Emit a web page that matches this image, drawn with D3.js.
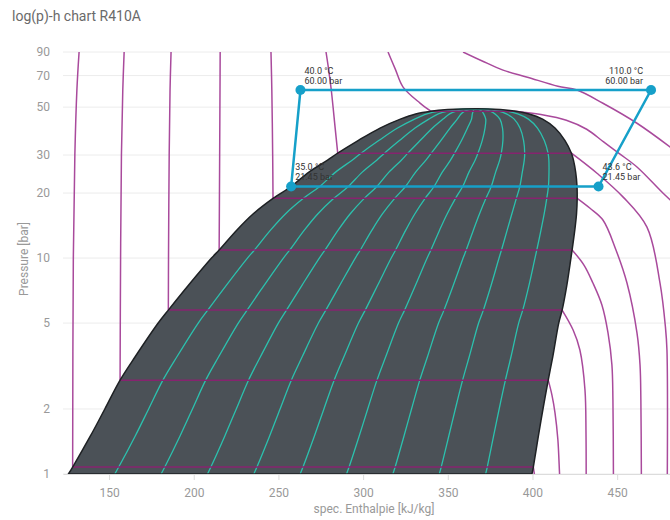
<!DOCTYPE html>
<html><head><meta charset="utf-8">
<script src="https://cdn.jsdelivr.net/npm/d3@7"></script>
<style>
body{margin:0;background:#fff;}
svg{display:block;font-family:Roboto,"Noto Sans",sans-serif;}
</style>
</head><body>
<svg id="chart" width="670" height="520"></svg>
<script>
const title = "log(p)-h chart R410A";
const xTitle = "spec. Enthalpie [kJ/kg]";
const yTitle = "Pressure [bar]";
const xTicks = [150, 200, 250, 300, 350, 400, 450];
const yTicks = [1, 2, 5, 10, 20, 30, 50, 70, 90];

// saturation dome: pressure [bar], sat. liquid / sat. vapour enthalpy [kJ/kg]
const domeP  = [1.0, 1.077, 1.5, 2.0, 2.72, 3.5, 5.0, 5.74, 7.5, 10.0, 10.9, 13.5, 16.0, 18.9, 21.45, 25.0, 28.4, 30.6, 35.0, 40.0, 44.0, 46.5, 47.9, 48.7, 49.2];
const domeHl = [126, 128.5, 139, 147.5, 156.5, 165.5, 179, 185, 197, 210.5, 215, 225.5, 235, 246.8, 257.5, 268, 279, 285, 297, 310, 322, 331, 340, 350, 367.5];
const domeHv = [399.7, 400.5, 403.5, 406.2, 409.3, 412, 415.5, 417.5, 420.3, 422.7, 423.4, 425, 426, 426.4, 426.3, 425.5, 424.2, 423, 419.2, 413.3, 406, 398, 390, 381, 367.5];

// constant vapour quality lines
const qualities = [0.1, 0.2, 0.3, 0.4, 0.5, 0.6, 0.7, 0.8, 0.9];

// isotherms [°C]: liquid part, two-phase (p, hl, hv), vapour part as [h, p]
const isoTemps = [-50, -30, -10, 10, 30, 50, 70, 90];
const isoLiquid = [
  [[132.3, 90], [131, 60], [129.8, 30], [128.9, 10], [128.5, 1.077]],
  [[158.9, 90], [158.1, 60], [157.3, 30], [156.8, 10], [156.5, 2.72]],
  [[186.6, 90], [186, 60], [185.5, 30], [185.1, 10], [185, 5.74]],
  [[215.6, 90], [215.5, 60], [215.3, 30], [215, 10.9]],
  [[245.6, 90], [246.1, 60], [246.6, 30], [246.8, 18.9]],
  [[278.1, 90], [279.6, 75], [281.2, 60], [283.5, 40], [285, 30.6]],
  [[314.7, 90], [319, 75], [323.6, 61.9], [333.6, 52.2], [340, 47.9]],
  [[359, 90], [370, 82], [382.6, 74.2], [397, 68.8], [415, 62.5], [426.3, 60], [441.6, 52.1], [461.7, 42.1], [481.2, 32.7], [500, 25]]
];
const isoSat = [
  [1.077, 128.5, 400.5],
  [2.72, 156.5, 409.3],
  [5.74, 185, 417.5],
  [10.9, 215, 423.4],
  [18.9, 246.8, 426.4],
  [30.6, 285, 423],
  [47.9, 340, 390],
  null
];
const isoVapor = [
  [[400.5, 1.077], [401.5, 0.95]],
  [[409.3, 2.72], [411.5, 2.32], [413.3, 1.92], [415, 1.44], [416, 1.0], [416.2, 0.95]],
  [[417.5, 5.74], [424, 4.64], [428, 3.75], [431, 2.45], [431.6, 1.55], [431.7, 0.95]],
  [[423.4, 10.9], [430.4, 9.28], [435.7, 7.66], [441, 6.06], [444.6, 4.5], [446.9, 3.2], [447.5, 2.2], [447.8, 0.95]],
  [[426.4, 18.9], [434, 17.0], [441.6, 15.0], [449.3, 10.9], [455.8, 7.66], [461.7, 4.5], [463.5, 3.2], [464, 2.2], [464.3, 0.95]],
  [[423, 30.6], [438.1, 24.7], [453.4, 19.2], [467.6, 13.9], [475.3, 7.66], [478.5, 4.8], [479.4, 3.75], [479.6, 0.95]],
  [[390, 47.9], [405, 46.2], [420, 43.5], [432, 39.5], [442, 34.5], [451.7, 30.3], [461.7, 26.4], [477, 20.0], [485, 17.5]],
  null
];

// refrigeration cycle points
const cycleH = [257.5, 439, 470, 263];
const cycleP = [21.45, 21.45, 60, 60];
const cycleT = [35.0, 43.6, 110.0, 40.0];

const svg = d3.select("#chart");
const pL = 63, pR = 670, pT = 52, pB = 474;

const x = d3.scaleLinear().domain([122.8, 481.2]).range([pL, pR]);
const y = d3.scaleLog().domain([1, 90]).range([pB, pT]);

svg.append("text").attr("x", 12).attr("y", 21).attr("font-size", 14)
  .attr("fill", "#6a6a6a").text(title);

// horizontal grid + y labels
svg.append("g").selectAll("line").data(yTicks).join("line")
  .attr("x1", pL).attr("x2", pR)
  .attr("y1", d => y(d)).attr("y2", d => y(d))
  .attr("stroke", "#ececec").attr("stroke-width", 1);
svg.append("g").selectAll("text").data(yTicks).join("text")
  .attr("x", 50).attr("y", d => y(d)).attr("dy", "0.35em")
  .attr("text-anchor", "end").attr("font-size", 12).attr("fill", "#999")
  .text(d => d);

// x axis
const xAxis = svg.append("g").attr("transform", `translate(0,${pB})`)
  .call(d3.axisBottom(x).tickValues(xTicks).tickSize(6).tickPadding(8).tickSizeOuter(0));
xAxis.select(".domain").attr("stroke", "#dcdcdc");
xAxis.selectAll(".tick line").attr("stroke", "#dcdcdc");
xAxis.selectAll(".tick text").attr("fill", "#999").attr("font-size", 12)
  .attr("font-family", "Roboto, 'Noto Sans', sans-serif");

svg.append("text").attr("x", 374).attr("y", 513).attr("text-anchor", "middle")
  .attr("font-size", 12).attr("fill", "#999").text(xTitle);
svg.append("text").attr("transform", "translate(28,259) rotate(-90)")
  .attr("text-anchor", "middle").attr("font-size", 12).attr("fill", "#999").text(yTitle);

// clip
svg.append("defs").append("clipPath").attr("id", "plotclip")
  .append("rect").attr("x", pL).attr("y", pT).attr("width", pR - pL).attr("height", pB - pT);
const plot = svg.append("g").attr("clip-path", "url(#plotclip)");

const lineCR = d3.line().x(d => x(d[0])).y(d => y(d[1])).curve(d3.curveCatmullRom.alpha(0.5));
const lineLin = d3.line().x(d => x(d[0])).y(d => y(d[1]));

// dome
const liqPts = domeP.map((p, i) => [domeHl[i], p]);
const vapPts = domeP.map((p, i) => [domeHv[i], p]).reverse().slice(1);
const domePts = liqPts.concat(vapPts);
plot.append("path").attr("d", lineCR(domePts) + "Z")
  .attr("fill", "#4b5157").attr("stroke", "none");

// quality lines
plot.append("g").selectAll("path").data(qualities).join("path")
  .attr("d", q => lineCR(domeP.map((p, i) => [domeHl[i] + q * (domeHv[i] - domeHl[i]), p])))
  .attr("fill", "none").attr("stroke", "#2cc1ae").attr("stroke-width", 1.3);

// isotherms
const isoColor = "#a94a9c";
const isoG = plot.append("g").attr("fill", "none").attr("stroke", isoColor).attr("stroke-width", 1.5);
isoTemps.forEach((t, i) => {
  isoG.append("path").attr("d", lineCR(isoLiquid[i]));
  if (isoSat[i]) {
    const s = isoSat[i];
    isoG.append("path").attr("d", lineLin([[s[1], s[0]], [s[2], s[0]]])).attr("stroke", "#86246f");
  }
  if (isoVapor[i]) isoG.append("path").attr("d", lineCR(isoVapor[i]));
});

// dome outline
plot.append("path").attr("d", lineCR(domePts) + "Z")
  .attr("fill", "none").attr("stroke", "#1e2124").attr("stroke-width", 1.5);

// cycle
const cyc = cycleH.map((h, i) => [h, cycleP[i]]);
const cycColor = "#16a0c9";
svg.append("path").attr("d", lineLin(cyc) + "Z")
  .attr("fill", "none").attr("stroke", cycColor).attr("stroke-width", 2.5);
svg.append("g").selectAll("circle").data(cyc).join("circle")
  .attr("cx", d => x(d[0])).attr("cy", d => y(d[1])).attr("r", 5).attr("fill", cycColor);

const fT = d3.format(".1f"), fP = d3.format(".2f");
const lab = svg.append("g").attr("font-size", 9).attr("fill", "#333");
cyc.forEach((d, i) => {
  const px = x(d[0]), py = y(d[1]);
  const nearRight = px > pR - 60;
  const tx = nearRight ? px - 8 : px + 4;
  const anchor = nearRight ? "end" : "start";
  lab.append("text").attr("x", tx).attr("y", py - 16).attr("text-anchor", anchor).text(fT(cycleT[i]) + " °C");
  lab.append("text").attr("x", tx).attr("y", py - 6).attr("text-anchor", anchor).text(fP(cycleP[i]) + " bar");
});
</script>
</body></html>
